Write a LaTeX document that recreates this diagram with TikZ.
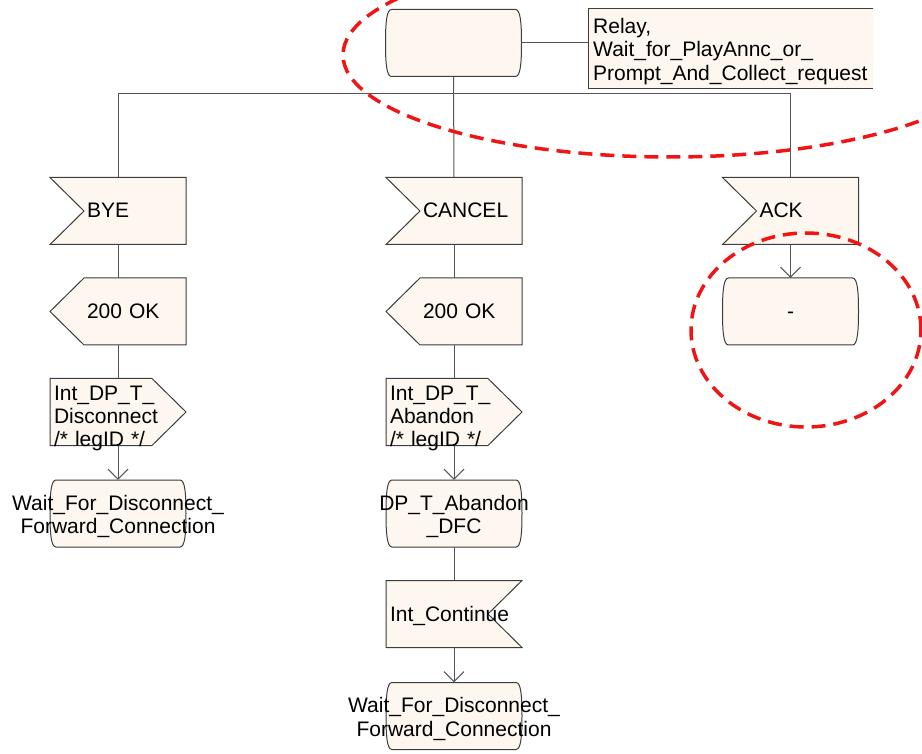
\documentclass[tikz,border=0pt]{standalone}
\usepackage{fontspec}
\setmainfont{Liberation Sans}
\usetikzlibrary{calc,arrows.meta,backgrounds}
\definecolor{sdlfill}{RGB}{253,247,240}
\definecolor{sdlline}{RGB}{60,60,60}
\definecolor{conline}{RGB}{85,85,85}
\definecolor{markred}{RGB}{240,20,20}
\newcommand\sdlfont{\fontsize{21pt}{23.5pt}\selectfont}
\newcommand\sdlState[1]{%
  \filldraw[shp] ($(#1.center)+(-62,-33.5)$) -- ($(#1.center)+(62,-33.5)$)
    .. controls ($(#1.center)+(67,-33.5)$) and ($(#1.center)+(68,-20)$) .. ($(#1.center)+(68,0)$)
    .. controls ($(#1.center)+(68,20)$) and ($(#1.center)+(67,33.5)$) .. ($(#1.center)+(62,33.5)$)
    -- ($(#1.center)+(-62,33.5)$)
    .. controls ($(#1.center)+(-67,33.5)$) and ($(#1.center)+(-68,20)$) .. ($(#1.center)+(-68,0)$)
    .. controls ($(#1.center)+(-68,-20)$) and ($(#1.center)+(-67,-33.5)$) .. ($(#1.center)+(-62,-33.5)$)
    -- cycle;}
\begin{document}
\begin{tikzpicture}[x=1pt,y=-1pt,
  shp/.style={draw=sdlline,fill=sdlfill,line width=1pt,line join=miter},
  con/.style={draw=conline,line width=1pt},
  arr/.style={-{Straight Barb[length=10pt,width=20pt]}},
  elem/.style={rectangle,draw=none,inner sep=0pt,minimum width=136pt,minimum height=67pt,font=\sdlfont},
  sigtext/.style={elem,text width=136pt,text height=15pt,text depth=1pt,execute at begin node={\parindent=0pt\leftskip=37pt\relax}},
  lefttext/.style={elem,text width=136pt,text height=15pt,text depth=1pt,execute at begin node={\parindent=0pt\leftskip=4pt\relax}},
  multitext/.style={elem,text width=136pt,text height=16pt,text depth=40pt,execute at begin node={\parindent=0pt\leftskip=4pt\relax}},
  statenode/.style={elem,text width=240pt,align=center,text height=16pt,text depth=23pt},
  emptystate/.style={elem},
  shortstate/.style={elem,text height=15pt,text depth=1pt},
  relaynode/.style={rectangle,draw=none,inner xsep=5pt,inner ysep=0pt,minimum height=79pt,text width=275pt,align=left,text height=16pt,text depth=47pt,font=\sdlfont,anchor=north west},
  redmark/.style={draw=markred,line width=3.5pt,dash pattern=on 14pt off 8pt}
]
\useasboundingbox (0,0) rectangle (922,754);
\clip (0,0) rectangle (922,754);

% nodes
\node[emptystate] (top) at (453.5,43) {};
\node[relaynode] (relay) at (588,9) {Relay,\\Wait\_for\_PlayAnnc\_or\_\\Prompt\_And\_Collect\_request};

\node[sigtext] (bye) at (118,211) {BYE};
\node[sigtext] (okA) at (118,311.5) {200 OK};
\node[multitext] (dpA) at (118,412) {Int\_DP\_T\_\\Disconnect\\/* legID */};
\node[statenode] (waitA) at (118,513.5) {Wait\_For\_Disconnect\_\\Forward\_Connection};

\node[sigtext] (cancel) at (454,211) {CANCEL};
\node[sigtext] (okB) at (454,311.5) {200 OK};
\node[multitext] (dpB) at (454,412) {Int\_DP\_T\_\\Abandon\\/* legID */};
\node[statenode] (dfc) at (454,513.5) {DP\_T\_Abandon\\\_DFC};
\node[lefttext] (cont) at (454,614) {Int\_Continue};
\node[statenode] (waitB) at (454,716) {Wait\_For\_Disconnect\_\\Forward\_Connection};

\node[sigtext] (ack) at (790.5,211) {ACK};
\node[shortstate] (dash) at (790.5,311.5) {-};

% shapes behind the texts
\begin{scope}[on background layer]
  \sdlState{top}
  \sdlState{waitA}
  \sdlState{dfc}
  \sdlState{waitB}
  \sdlState{dash}
  \filldraw[shp] (relay.north east) -- (relay.north west) -- (relay.south west) -- (relay.south east);
  \foreach \n in {bye,cancel,ack}
    \filldraw[shp] ($(\n.center)+(-68,-33.5)$) -- ++(136,0) -- ++(0,67) -- ++(-136,0) -- ++(34,-33.5) -- cycle;
  \foreach \n in {okA,okB}
    \filldraw[shp] ($(\n.center)+(-34,-33.5)$) -- ++(102,0) -- ++(0,67) -- ++(-102,0) -- ++(-34,-33.5) -- cycle;
  \foreach \n in {dpA,dpB}
    \filldraw[shp] ($(\n.center)+(-68,-33.5)$) -- ++(102,0) -- ++(34,33.5) -- ++(-34,33.5) -- ++(-102,0) -- cycle;
  \filldraw[shp] ($(cont.center)+(-68,-33.5)$) -- ++(136,0) -- ++(-34,33.5) -- ++(34,33.5) -- ++(-136,0) -- cycle;
\end{scope}

% connectors
\draw[con] (top.south) -- (cancel.north);
\draw[con] (bye.north) |- ($(top.south)+(0,16.5)$) -| (ack.north);
\draw[con] (top.east) -- (top.east -| relay.west);

\draw[con] (bye.south) -- (okA.north);
\draw[con] (okA.south) -- (dpA.north);
\draw[con,arr] (dpA.south) -- (waitA.north);

\draw[con] (cancel.south) -- (okB.north);
\draw[con] (okB.south) -- (dpB.north);
\draw[con,arr] (dpB.south) -- (dfc.north);
\draw[con] (dfc.south) -- (cont.north);
\draw[con,arr] (cont.south) -- (waitB.north);

\draw[con,arr] (ack.south) -- (dash.north);

% red dashed markings
\draw[redmark] (670,55) ellipse [x radius=327pt, y radius=102pt];
\draw[redmark] (806,330) ellipse [x radius=115pt, y radius=97pt];
\end{tikzpicture}
\end{document}
